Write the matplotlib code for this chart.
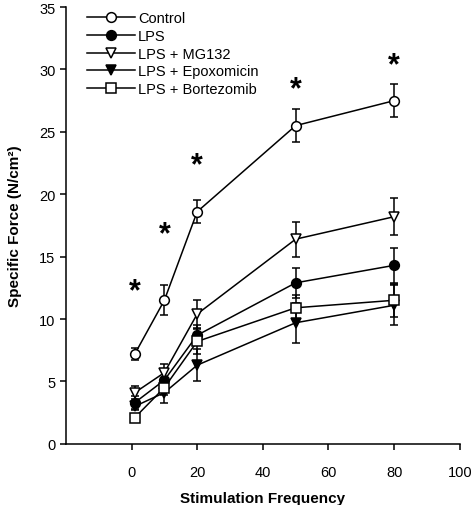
import numpy as np
import matplotlib
matplotlib.use("Agg")
import matplotlib.pyplot as plt
from matplotlib.lines import Line2D

plt.rcParams['font.family'] = ['Liberation Sans', 'DejaVu Sans']

freq = [1, 10, 20, 50, 80]

control = [7.2, 11.5, 18.6, 25.5, 27.5]
control_err = [0.5, 1.2, 0.9, 1.3, 1.3]
lps = [3.3, 5.1, 8.7, 12.9, 14.3]
lps_err = [0.5, 0.7, 0.8, 1.2, 1.4]
mg132 = [4.1, 5.7, 10.4, 16.4, 18.2]
mg132_err = [0.5, 0.7, 1.1, 1.4, 1.5]
epox = [3.0, 4.1, 6.3, 9.7, 11.1]
epox_err = [0.3, 0.8, 1.3, 1.6, 1.6]
bort = [2.1, 4.5, 8.2, 10.9, 11.5]
bort_err = [0.2, 0.6, 1.0, 1.0, 1.3]

star_y = [12.2, 16.8, 22.3, 28.4, 30.3]

fig = plt.figure(figsize=(4.74, 5.06), dpi=100)
ax = fig.add_axes([0.139, 0.121, 0.831, 0.863])

series = [
    ("Control", control, control_err, 'o', 'white', 7),
    ("LPS", lps, lps_err, 'o', 'black', 7),
    ("LPS + MG132", mg132, mg132_err, 'v', 'white', 7.5),
    ("LPS + Epoxomicin", epox, epox_err, 'v', 'black', 7.5),
    ("LPS + Bortezomib", bort, bort_err, 's', 'white', 6.5),
]

handles = []
for name, vals, err, mk, fc, ms in series:
    ax.errorbar(freq, vals, yerr=err, color='black', lw=1.1, marker=mk,
                mfc=fc, mec='black', mew=1.1, ms=ms, capsize=3,
                elinewidth=1.1, capthick=1.1)
    handles.append(Line2D([], [], color='black', lw=1.1, marker=mk,
                          mfc=fc, mec='black', mew=1.1, ms=ms, label=name))

for xv, yv in zip(freq, star_y):
    ax.text(xv, yv, '*', ha='center', va='center', fontsize=22,
            fontweight='bold')

ax.set_xlim(-20, 100)
ax.set_ylim(0, 35)
ax.set_xticks(np.arange(0, 101, 20))
ax.set_yticks(np.arange(0, 36, 5))
ax.spines['top'].set_visible(False)
ax.spines['right'].set_visible(False)
ax.spines['left'].set_linewidth(1.1)
ax.spines['bottom'].set_linewidth(1.1)
ax.tick_params(axis='x', direction='out', length=4, width=1.1, pad=11,
               labelsize=10.5)
ax.tick_params(axis='y', direction='out', length=4, width=1.1,
               labelsize=10.5)

ax.set_xlabel("Stimulation Frequency", fontsize=11, fontweight='bold',
              labelpad=9)
ax.set_ylabel("Specific Force (N/cm²)", fontsize=11, fontweight='bold',
              labelpad=12)

ax.legend(handles=handles, loc='upper left', bbox_to_anchor=(0.02, 1.02),
          frameon=False, fontsize=10.5, handlelength=3.3,
          labelspacing=0.25, handletextpad=0.2)

fig.savefig("out.png", dpi=100)
